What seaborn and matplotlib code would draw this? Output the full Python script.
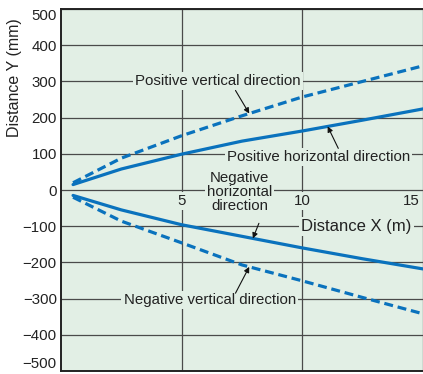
import matplotlib
matplotlib.use('Agg')
import matplotlib.pyplot as plt
import numpy as np
import pandas as pd
import seaborn as sns

BG = '#e2efe5'
BLUE = '#0a72bd'

# distance X (m)
x_vals = [0.5, 2.5, 5, 7.5, 10, 12.5, 15]
# distance Y (mm) per direction
pos_vertical = [20, 88, 150, 205, 257, 300, 343]
pos_horizontal = [15, 58, 99, 135, 163, 193, 224]
neg_horizontal = [-15, -55, -96, -128, -160, -190, -218]
neg_vertical = [-20, -86, -146, -207, -251, -297, -342]

x_ticks = [5, 10, 15]
y_ticks = list(range(-500, 501, 100))

sns.set_style('ticks')
plt.rcParams['font.family'] = ['Liberation Sans', 'DejaVu Sans']


def main():
    fig = plt.figure(figsize=(4.23, 3.74), dpi=100)
    ax = fig.add_axes([61 / 423, 3 / 374, 362 / 423, 362 / 374])
    ax.set_facecolor(BG)

    series = {
        'Positive vertical': (pos_vertical, '--'),
        'Positive horizontal': (pos_horizontal, '-'),
        'Negative horizontal': (neg_horizontal, '-'),
        'Negative vertical': (neg_vertical, '--'),
    }
    for name, (vals, ls) in series.items():
        df = pd.DataFrame({'x': x_vals, 'y': vals})
        sns.lineplot(data=df, x='x', y='y', ax=ax, color=BLUE, lw=2.3,
                     linestyle=ls, zorder=2)
    for l in ax.lines:
        if l.get_linestyle() == '--':
            l.set_dashes([2.8, 1.5])

    ax.set_xlim(0, 15)
    ax.set_ylim(-500, 500)
    ax.set_yticks(y_ticks)
    ax.set_xticks(x_ticks)
    ax.set_xticklabels([])
    ax.tick_params(axis='both', length=0, labelsize=10.8, pad=3, colors='#222222')
    # keep the end labels inside the figure
    ylabels = ax.get_yticklabels()
    ylabels[0].set_va('bottom')
    ylabels[-1].set_va('top')
    ax.set_axisbelow(True)
    ax.grid(True, color='#4a4a4a', lw=0.9)
    for s in ['left', 'top', 'bottom']:
        ax.spines[s].set_color('#222222')
        ax.spines[s].set_linewidth(1.4)
    ax.spines['right'].set_visible(False)

    ax.set_xlabel('')
    ax.set_ylabel('Distance Y (mm)', fontsize=11.5, color='#222222')
    ax.yaxis.set_label_coords(-0.108, 0.81)

    box = dict(facecolor=BG, edgecolor='none', pad=1.5)
    txt = dict(fontsize=10.8, color='#222222', zorder=3, bbox=box)

    # x tick labels drawn inside, below the zero line
    for t in x_ticks:
        if t == x_ticks[-1]:
            ax.text(t - 0.12, -12, str(t), ha='right', va='top', **txt)
        else:
            ax.text(t, -12, str(t), ha='center', va='top', **txt)
    ax.text(12.25, -100, 'Distance X (m)', ha='center', va='center',
            fontsize=12, color='#222222', zorder=3, bbox=box)

    ax.text(6.5, 300, 'Positive vertical direction', ha='center', va='center', **txt)
    ax.text(10.66, 92, 'Positive horizontal direction', ha='center', va='center', **txt)
    ax.text(7.4, -5, 'Negative\nhorizontal\ndirection', ha='center', va='center',
            linespacing=1.0, **txt)
    ax.text(6.16, -303, 'Negative vertical direction', ha='center', va='center', **txt)

    arrow = dict(arrowstyle='-|>', color='#111111', lw=0.8, mutation_scale=8,
                 shrinkA=0, shrinkB=0)
    arrows = [
        ((7.23, 275), 7.8, pos_vertical),
        ((11.49, 115), 11.05, pos_horizontal),
        ((8.2, -92), 7.95, neg_horizontal),
        ((7.23, -285), 7.8, neg_vertical),
    ]
    for start, xe, vals in arrows:
        ye = np.interp(xe, x_vals, vals)
        ax.annotate('', xy=(xe, ye), xytext=start, arrowprops=arrow, zorder=4)

    fig.savefig('out.png', dpi=100)
    plt.close(fig)


if __name__ == '__main__':
    main()
